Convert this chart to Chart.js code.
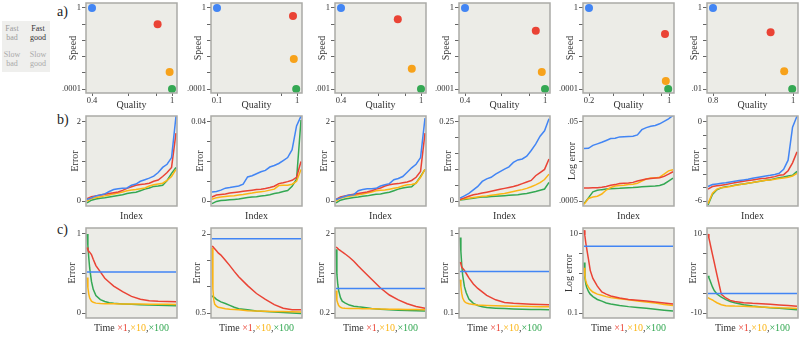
<!DOCTYPE html>
<html>
<head>
<meta charset="utf-8">
<title>Speed, quality and error panels</title>
<script src="https://cdn.jsdelivr.net/npm/chart.js@4.4.1/dist/chart.umd.min.js"></script>
<style>
  body { margin: 0; width: 806px; height: 337px; overflow: hidden; background: #fff; position: relative; font-family: "Liberation Serif", serif; }
  canvas { position: absolute; }
  .row { position: absolute; font-size: 14px; line-height: 14px; color: #222; }
  #key { position: absolute; left: 2px; top: 21px; width: 48px; height: 51px; background: #efefed; }
  #key div { position: absolute; width: 22px; text-align: center; font-size: 8px; line-height: 9px; }
</style>
</head>
<body>
<div class="row" style="left:57px;top:5px">a)</div>
<div class="row" style="left:57px;top:113px">b)</div>
<div class="row" style="left:57px;top:223px">c)</div>
<div id="key">
  <div style="left:-1px;top:3px;color:#9c9c9c">Fast<br>bad</div>
  <div style="left:25px;top:3px;color:#333">Fast<br>good</div>
  <div style="left:-1px;top:29px;color:#aaa">Slow<br>bad</div>
  <div style="left:25px;top:29px;color:#aaa">Slow<br>good</div>
</div>
<script>
// ---- data: row a (positions between first and last tick; speed in tick steps) ----
// order in each panel: blue, red, orange, green
var qualityPos = [
  [0, 0.82, 0.97, 1.0],
  [0, 0.95, 0.96, 0.99],
  [0, 0.71, 0.885, 1.0],
  [0, 0.885, 0.96, 1.0],
  [0, 0.95, 0.96, 0.99],
  [0, 0.72, 0.89, 0.99]
];
var speedPos = [
  [5, 4.0, 1.05, 0],
  [5, 4.5, 1.85, 0],
  [5, 4.3, 1.25, 0],
  [5, 3.6, 1.05, 0],
  [5, 3.4, 0.5, 0],
  [5, 3.5, 1.1, 0]
];
var qualityTicks = [[0, 0.46, 0.81, 1], [0, 0.81, 1], [0, 0.47, 0.8, 1], [0, 0.45, 0.8, 1], [0, 0.31, 0.675, 0.91, 1], [0, 0.65, 1]];
var qualityLabels = [['0.4', '1'], ['0.1', '1'], ['0.4', '1'], ['0.4', '1'], ['0.2', '1'], ['0.8', '1']];
var speedTicks = [0, 1, 2, 3, 4, 5];
var speedLabels = [['.0001', '1'], ['.0001', '1'], ['.001', '1'], ['.0001', '1'], ['.0001', '1'], ['.01', '1']];

// ---- data: row b (sorted errors) ----
var indexSteps = [0,1,2,3,4,5,6,7,8,9,10,11,12,13,14,15,16,17,18,19,20];
var errBlue = [
  [0.04,0.08,0.13,0.15,0.18,0.24,0.29,0.31,0.32,0.33,0.40,0.43,0.50,0.54,0.58,0.63,0.72,0.85,0.93,1.1,2.15],
  [0.0045,0.0048,0.0055,0.0065,0.0068,0.0072,0.0076,0.0085,0.0122,0.0128,0.0138,0.0148,0.0155,0.0172,0.018,0.019,0.0205,0.022,0.026,0.038,0.043],
  [0.04,0.08,0.12,0.15,0.16,0.26,0.29,0.31,0.31,0.32,0.38,0.41,0.44,0.54,0.57,0.62,0.73,0.84,0.93,1.1,2.1],
  [0.009,0.016,0.024,0.035,0.046,0.062,0.07,0.075,0.085,0.093,0.101,0.108,0.122,0.13,0.133,0.142,0.16,0.18,0.205,0.222,0.26],
  [0.0106,0.0108,0.0128,0.014,0.0153,0.017,0.019,0.0195,0.021,0.0212,0.0215,0.0218,0.0235,0.032,0.036,0.039,0.041,0.045,0.052,0.06,0.073],
  [-4.9,-4.75,-4.7,-4.66,-4.62,-4.55,-4.5,-4.45,-4.4,-4.35,-4.28,-4.22,-4.16,-4.1,-4.05,-3.98,-3.9,-3.6,-2.9,-0.4,0.45]
];
var errRed = [
  [0.06,0.11,0.13,0.15,0.17,0.19,0.21,0.23,0.27,0.32,0.36,0.40,0.42,0.43,0.45,0.50,0.53,0.62,0.72,0.85,1.72],
  [0.002,0.003,0.0033,0.0036,0.004,0.0043,0.0046,0.0049,0.0052,0.0055,0.0058,0.006,0.0063,0.0068,0.0075,0.0088,0.0092,0.0098,0.0105,0.012,0.02],
  [0.04,0.1,0.13,0.15,0.17,0.19,0.21,0.23,0.26,0.3,0.33,0.38,0.41,0.43,0.44,0.46,0.48,0.52,0.6,0.75,1.72],
  [0.005,0.01,0.015,0.02,0.022,0.025,0.028,0.031,0.034,0.037,0.04,0.043,0.046,0.05,0.055,0.06,0.065,0.08,0.09,0.1,0.133],
  [0.00107,0.00107,0.00108,0.00109,0.00112,0.00117,0.00125,0.0013,0.00138,0.0014,0.00142,0.00148,0.0016,0.0017,0.0018,0.00185,0.0019,0.00195,0.0021,0.0024,0.00275],
  [-5.1,-4.9,-4.85,-4.8,-4.75,-4.68,-4.62,-4.56,-4.5,-4.45,-4.4,-4.35,-4.3,-4.27,-4.22,-4.15,-4.05,-4.0,-3.7,-3.1,-2.27]
];
var errYellow = [
  [0.0,0.06,0.09,0.11,0.13,0.15,0.18,0.20,0.23,0.26,0.28,0.29,0.31,0.33,0.38,0.41,0.43,0.45,0.52,0.62,0.80],
  [0.0009,0.0017,0.002,0.0023,0.0025,0.0027,0.003,0.0033,0.0037,0.004,0.0044,0.0047,0.005,0.0055,0.006,0.0078,0.008,0.008,0.0085,0.01,0.016],
  [0.0,0.07,0.1,0.12,0.14,0.16,0.18,0.2,0.23,0.26,0.27,0.28,0.3,0.32,0.34,0.38,0.41,0.42,0.45,0.6,0.8],
  [0.004,0.007,0.009,0.011,0.013,0.015,0.016,0.018,0.02,0.022,0.024,0.027,0.03,0.033,0.036,0.04,0.045,0.051,0.058,0.068,0.085],
  [0.00041,0.00058,0.00063,0.00066,0.00075,0.00095,0.0011,0.0012,0.00123,0.00125,0.0013,0.00132,0.0014,0.0016,0.0018,0.0019,0.00192,0.002,0.0024,0.0029,0.0031],
  [-6.2,-5.4,-5.1,-5.0,-4.95,-4.9,-4.82,-4.77,-4.7,-4.65,-4.6,-4.53,-4.48,-4.43,-4.4,-4.35,-4.3,-4.25,-4.2,-4.1,-3.9]
];
var errGreen = [
  [-0.05,0.02,0.05,0.07,0.08,0.10,0.12,0.14,0.16,0.19,0.21,0.22,0.26,0.30,0.33,0.37,0.38,0.40,0.52,0.70,0.85],
  [-0.0013,-0.0002,0.0002,0.0004,0.0006,0.0008,0.001,0.0014,0.0018,0.002,0.0022,0.0025,0.0028,0.0032,0.0038,0.0042,0.0048,0.0053,0.0075,0.011,0.041],
  [-0.05,0.02,0.05,0.07,0.09,0.1,0.12,0.13,0.15,0.17,0.18,0.2,0.22,0.26,0.3,0.33,0.35,0.36,0.46,0.62,0.8],
  [0.003,0.005,0.007,0.009,0.011,0.0125,0.013,0.014,0.015,0.016,0.017,0.018,0.019,0.02,0.022,0.024,0.027,0.03,0.034,0.038,0.059],
  [0.00043,0.0006,0.00085,0.00093,0.00097,0.001,0.00102,0.00104,0.00105,0.00107,0.00109,0.0011,0.00112,0.00114,0.00116,0.00118,0.0012,0.00124,0.00135,0.0016,0.0019],
  [-6.3,-5.5,-5.15,-5.0,-4.92,-4.87,-4.8,-4.75,-4.7,-4.65,-4.6,-4.53,-4.48,-4.43,-4.38,-4.3,-4.23,-4.17,-4.1,-4.05,-3.75]
];
var errTicks = [[0,0.5,1,1.5,2], [0,0.01,0.02,0.03,0.04], [0,0.5,1,1.5,2], [0,0.05,0.1,0.15,0.2,0.25], [0.0005,0.005,0.05], [-6,-5,-4,-3,-2,-1,0]];
var errLabels = [['0','2'], ['0','0.04'], ['0','2'], ['0','0.25'], ['.0005','.05'], ['-6','0']];

// ---- data: row c (error against time) ----
var timeSteps = [0,1,2,3,5,7,10,15,20,25,30,40,50,60,70,80,90,100];
var flatBlue = [0.52, 1.91, 0.76, 0.5725, 4.9, -5.06];
var timeRed = [
  [0.83,0.8,0.78,0.77,0.74,0.68,0.6,0.52,0.44,0.39,0.34,0.27,0.21,0.175,0.155,0.148,0.145,0.143],
  [1.77,1.76,1.74,1.72,1.68,1.64,1.6,1.5,1.4,1.29,1.19,1.02,0.87,0.76,0.66,0.59,0.56,0.56],
  [1.7,1.69,1.67,1.65,1.62,1.59,1.55,1.47,1.38,1.27,1.17,0.97,0.77,0.61,0.5,0.41,0.35,0.31],
  [0.68,0.66,0.62,0.61,0.585,0.55,0.5,0.43,0.38,0.34,0.3,0.25,0.22,0.21,0.205,0.2,0.197,0.194],
  [12.5,9,6,4.3,2.3,1.2,0.75,0.48,0.34,0.3,0.27,0.24,0.22,0.21,0.2,0.19,0.18,0.17],
  [10,9,8,6.9,4.85,2.8,-0.3,-5.3,-6.2,-6.8,-7.1,-7.4,-7.55,-7.65,-7.8,-7.95,-8.1,-8.3]
];
var timeYellow = [
  [0.45,0.32,0.24,0.19,0.15,0.135,0.125,0.12,0.118,0.117,0.116,0.115,0.114,0.113,0.112,0.111,0.11,0.109],
  [1.74,0.95,0.75,0.67,0.63,0.61,0.6,0.58,0.57,0.565,0.56,0.545,0.54,0.535,0.53,0.527,0.523,0.52],
  [0.71,0.49,0.42,0.37,0.33,0.315,0.31,0.305,0.3,0.3,0.298,0.295,0.29,0.287,0.284,0.28,0.277,0.275],
  [0.48,0.4,0.32,0.27,0.23,0.215,0.205,0.197,0.19,0.187,0.185,0.183,0.18,0.178,0.176,0.174,0.172,0.17],
  [1.4,0.85,0.66,0.55,0.45,0.39,0.34,0.3,0.28,0.26,0.245,0.23,0.215,0.2,0.19,0.178,0.165,0.155],
  [-6.1,-6.25,-6.4,-6.5,-6.7,-7.0,-7.4,-7.9,-8.15,-8.2,-8.25,-8.3,-8.4,-8.5,-8.6,-8.7,-8.75,-8.85]
];
var timeGreen = [
  [1.0,0.85,0.7,0.57,0.4,0.3,0.22,0.17,0.145,0.13,0.122,0.115,0.11,0.105,0.1,0.098,0.096,0.093],
  [0.83,0.81,0.8,0.79,0.76,0.74,0.71,0.68,0.645,0.61,0.58,0.56,0.54,0.53,0.52,0.51,0.5,0.49],
  [1.65,1.085,0.85,0.71,0.55,0.47,0.43,0.38,0.355,0.34,0.33,0.305,0.285,0.272,0.265,0.258,0.25,0.245],
  [0.96,0.8,0.64,0.53,0.4,0.33,0.26,0.21,0.185,0.17,0.162,0.155,0.15,0.146,0.143,0.141,0.139,0.138],
  [1.9,0.8,0.55,0.45,0.35,0.3,0.26,0.22,0.2,0.18,0.17,0.155,0.145,0.138,0.132,0.125,0.118,0.112],
  [-0.6,-1.1,-1.6,-2.2,-3.4,-4.3,-5.2,-6.0,-6.6,-7.1,-7.4,-7.9,-8.25,-8.5,-8.65,-8.8,-9.0,-9.2]
];
var timeTicks = [[0,0.25,0.5,0.75,1], [0.5,1,1.5,2], [0.2,1.1,2], [0.1,0.32,0.55,1], [0.1,0.316,1,3.16,10], [-10,-5,0,5,10]];
var timeLabels = [['0','1'], ['0.5','2'], ['0.2','2'], ['0.1','1'], ['0.1','10'], ['-10','10']];

// ---- layout and style ----
var family = '"Liberation Serif", serif';
var ink = '#333';
var blue = '#4285f4', red = '#ea4335', yellow = '#fbb515', orange = '#f7a21b', green = '#34a853';
var dotColors = [blue, red, orange, green];
var colLeft = [86, 211, 335, 459, 583, 707];
var rowTop = [3, 116, 228];

var framePlugin = {
  id: 'frame',
  beforeDraw: function(chart) {
    var a = chart.chartArea, c = chart.ctx;
    c.save();
    c.fillStyle = '#ecece7';
    c.fillRect(a.left, a.top, a.right - a.left, a.bottom - a.top);
    c.restore();
  },
  afterDraw: function(chart, args, o) {
    var a = chart.chartArea, c = chart.ctx;
    c.save();
    c.strokeStyle = '#aaaaa7';
    c.lineWidth = 1.5;
    c.strokeRect(a.left, a.top, a.right - a.left, a.bottom - a.top);
    c.font = '10px ' + family;
    c.textBaseline = 'middle';
    c.textAlign = 'left';
    var total = 0;
    o.xTitle.forEach(function(g) { total += c.measureText(g[0]).width; });
    var x = (a.left + a.right) / 2 - total / 2;
    o.xTitle.forEach(function(g) {
      c.fillStyle = g[1];
      c.fillText(g[0], x, a.bottom + o.xOff);
      x += c.measureText(g[0]).width;
    });
    c.translate(a.left - o.yOff, (a.top + a.bottom) / 2);
    c.rotate(-Math.PI / 2);
    c.textAlign = 'center';
    c.fillStyle = ink;
    c.fillText(o.yTitle, 0, 0);
    c.restore();
  }
};
Chart.register(framePlugin);

function padRange(lo, hi, span, pHi, pLo, log) {
  if (log) { lo = Math.log10(lo); hi = Math.log10(hi); }
  var u = (hi - lo) / (span - pHi - pLo);
  var r = [lo - pLo * u, hi + pHi * u];
  return log ? r.map(function(v) { return Math.pow(10, v); }) : r;
}

function axis(o) {
  var horiz = o.pos === 'x';
  var type = o.type || 'linear';
  var r = padRange(o.lo, o.hi, horiz ? 91 : 90, o.pHi, o.pLo, type === 'logarithmic');
  var s = {
    type: type, min: r[0], max: r[1], position: horiz ? 'bottom' : 'left',
    // the y box is wide enough for the tick labels, which Chart.js clips to it
    afterFit: function(sc) { if (horiz) sc.height = 24; else sc.width = 34; },
    ticks: { display: false },
    grid: { display: false },
    border: { display: false }
  };
  if (o.ticks) {
    s.afterBuildTicks = function(sc) { sc.ticks = o.ticks.map(function(v) { return { value: v }; }); };
    s.ticks = {
      autoSkip: false, maxRotation: 0, padding: horiz ? 0 : 1, color: ink,
      font: { family: family, size: 8.5 },
      callback: function(v, i, t) { return i === 0 ? o.labels[0] : (i === t.length - 1 ? o.labels[1] : ''); }
    };
    s.grid = { drawOnChartArea: false, tickLength: horiz ? 3 : 4, color: '#666', lineWidth: 1 };
  }
  return s;
}

function dot(c, x, y) {
  return { data: [{ x: x, y: y }], pointRadius: 4, pointBackgroundColor: c, pointBorderWidth: 0, showLine: false };
}
function line(c, xs, ys) {
  return { data: xs.map(function(x, i) { return { x: x, y: ys[i] }; }), showLine: true,
    borderColor: c, borderWidth: 1.5, pointRadius: 0, fill: false };
}

function panel(row, col, datasets, xAx, yAx, xTitle, yTitle, yOff, xOff) {
  var cv = document.createElement('canvas');
  cv.width = 145; cv.height = 122;
  cv.style.width = '145px'; cv.style.height = '122px';
  cv.style.left = (colLeft[col] - 44) + 'px';
  cv.style.top = (rowTop[row] - 8) + 'px';
  document.body.appendChild(cv);
  new Chart(cv, {
    type: 'scatter',
    data: { datasets: datasets },
    options: {
      responsive: false, animation: false, devicePixelRatio: 1,
      layout: { padding: { left: 10, right: 10, top: 8, bottom: 0 } },
      scales: { x: xAx, y: yAx },
      plugins: {
        legend: { display: false }, tooltip: { enabled: false },
        frame: { xTitle: xTitle, yTitle: yTitle, yOff: yOff, xOff: xOff }
      }
    }
  });
}

var timeTitle = [['Time ', ink], ['\u00d71', red], [',', ink], ['\u00d710', yellow], [',', ink], ['\u00d7100', green]];

for (var p = 0; p < 6; p++) {
  panel(0, p,
    [0, 1, 2, 3].map(function(k) { return dot(dotColors[k], qualityPos[p][k], speedPos[p][k]); }),
    axis({ pos: 'x', lo: 0, hi: 1, pLo: 6, pHi: 5, ticks: qualityTicks[p], labels: qualityLabels[p] }),
    axis({ pos: 'y', lo: 0, hi: 5, pLo: 4, pHi: 5, ticks: speedTicks, labels: speedLabels[p] }),
    [['Quality', ink]], 'Speed', 12.5, 12.5);

  var et = errTicks[p];
  panel(1, p,
    [line(blue, indexSteps, errBlue[p]), line(red, indexSteps, errRed[p]),
     line(yellow, indexSteps, errYellow[p]), line(green, indexSteps, errGreen[p])],
    axis({ pos: 'x', lo: 0, hi: 20, pLo: 1, pHi: 1 }),
    axis({ pos: 'y', type: p === 4 ? 'logarithmic' : 'linear', lo: et[0], hi: et[et.length - 1], pLo: 5, pHi: 6, ticks: et, labels: errLabels[p] }),
    [['Index', ink]], p === 4 ? 'Log error' : 'Error', 11, 10);

  var tt = timeTicks[p];
  panel(2, p,
    [line(blue, [0, 100], [flatBlue[p], flatBlue[p]]), line(red, timeSteps, timeRed[p]),
     line(yellow, timeSteps, timeYellow[p]), line(green, timeSteps, timeGreen[p])],
    axis({ pos: 'x', lo: 0, hi: 100, pLo: 1, pHi: 1 }),
    axis({ pos: 'y', type: p === 4 ? 'logarithmic' : 'linear', lo: tt[0], hi: tt[tt.length - 1], pLo: 5, pHi: 6, ticks: tt, labels: timeLabels[p] }),
    timeTitle, p === 4 ? 'Log error' : 'Error', 14, 10);
}
</script>
</body>
</html>
